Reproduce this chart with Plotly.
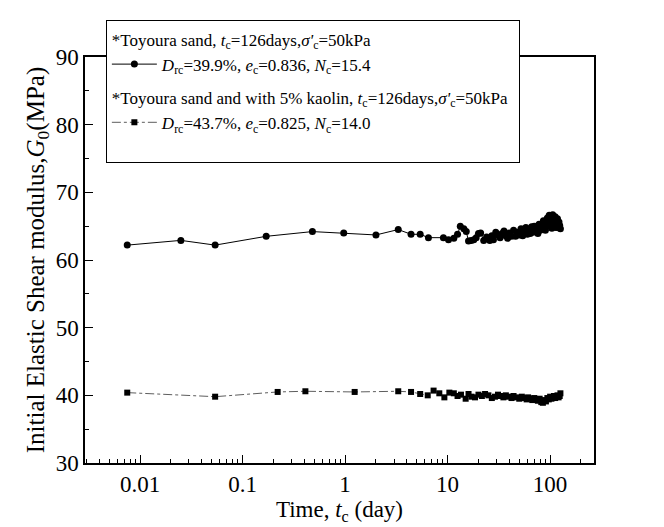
import plotly.graph_objects as go

# ---- data ----
t_sand = [0.0075, 0.025, 0.054, 0.17, 0.48, 0.97, 2.0, 3.3, 4.4, 5.4, 6.5, 9.1,
          10.2, 11.5, 12.5, 13.3, 14.4, 15.2, 16.0, 17.0, 18.0, 19.0, 20.0, 21.0,
          22.5, 24.0, 25.8, 27.0, 28.0, 29.5, 31.0, 32.5, 34.0, 35.5, 37.0, 38.5,
          40.0, 42.0, 44.0, 46.0, 48.0, 50.0, 52.0, 54.0, 56.0, 58.0, 60.0, 62.0,
          64.0, 66.0, 68.0, 70.0, 72.0, 74.0, 76.0, 78.0, 80.0, 82.0, 84.0, 86.0,
          88.0, 90.0, 92.0, 94.0, 96.0, 98.0, 100.0, 102.0, 104.0, 106.0, 108.0, 110.0,
          112.0, 114.0, 116.0, 118.0, 120.0, 122.0, 124.0, 126.0]
g_sand = [62.2, 62.9, 62.2, 63.5, 64.2, 64.0, 63.7, 64.5, 63.8, 63.8, 63.3, 63.3,
          63.0, 63.2, 63.8, 65.0, 64.6, 64.2, 62.8, 62.9, 63.0, 63.3, 63.9, 64.0,
          62.9, 63.4, 62.9, 63.6, 63.0, 64.1, 63.7, 63.3, 63.9, 64.3, 63.6, 63.2,
          64.0, 63.5, 64.4, 63.5, 64.1, 63.7, 64.6, 63.6, 64.2, 64.8, 63.8, 64.5,
          63.9, 64.9, 64.1, 65.0, 64.2, 64.9, 63.9, 65.3, 64.4, 65.1, 64.6, 65.8,
          64.9, 64.4, 65.6, 66.2, 65.0, 66.6, 65.3, 66.2, 64.7, 66.7, 65.6, 65.1,
          66.4, 64.8, 65.9, 66.1, 64.8, 65.6, 65.1, 64.6]

t_kaolin = [0.0075, 0.054, 0.22, 0.41, 1.24, 3.3, 4.4, 5.4, 6.4, 7.3, 8.3, 9.3,
            10.4, 11.5, 12.5, 13.5, 15.0, 16.0, 17.1, 18.5, 20.0, 21.6, 23.2, 25.0,
            27.0, 29.0, 31.0, 33.0, 35.0, 37.0, 39.6, 42.0, 44.0, 47.0, 50.0, 53.0,
            56.0, 59.0, 61.0, 64.0, 67.0, 70.0, 73.0, 76.0, 79.0, 82.0, 85.0, 88.0,
            91.0, 94.0, 97.0, 100.0, 103.0, 106.0, 109.0, 112.0, 115.0, 118.0, 121.0, 124.0,
            126.0]
g_kaolin = [40.4, 39.8, 40.5, 40.6, 40.5, 40.6, 40.5, 40.2, 40.0, 40.7, 40.3, 39.7,
            40.4, 40.3, 39.9, 40.1, 39.5, 40.2, 39.8, 39.7, 40.1, 39.9, 40.2, 40.0,
            39.6, 39.8, 40.1, 39.9, 39.7, 40.0, 39.8, 39.6, 39.9, 39.7, 39.5, 39.8,
            39.6, 39.4, 39.7, 39.5, 39.3, 39.6, 39.4, 39.2, 39.5, 39.0, 38.9, 39.3,
            39.1, 39.6, 39.4, 39.8, 39.5, 39.7, 39.9, 39.6, 39.8, 40.0, 39.7, 39.9,
            40.3]

x_tickvals = [0.01, 0.1, 1, 10, 100]
x_ticktext = ["0.01", "0.1", "1", "10", "100"]

FONT = "Liberation Serif"
LEG = 17

fig = go.Figure()
fig.add_trace(go.Scatter(
    x=t_sand, y=g_sand, mode="lines+markers",
    line=dict(color="black", width=1),
    marker=dict(symbol="circle", size=7, color="black"),
    name="<i>D</i><sub>rc</sub>=39.9%, <i>e</i><sub>c</sub>=0.836, <i>N</i><sub>c</sub>=15.4",
    legendgroup="sand",
    legendgrouptitle=dict(text="*Toyoura sand, <i>t</i><sub>c</sub>=126days,<i>σ'</i><sub>c</sub>=50kPa",
                          font=dict(family=FONT, size=LEG, color="black")),
))
fig.add_trace(go.Scatter(
    x=t_kaolin, y=g_kaolin, mode="lines+markers",
    line=dict(color="#333333", width=0.8, dash="dashdot"),
    marker=dict(symbol="square", size=6, color="black"),
    name="<i>D</i><sub>rc</sub>=43.7%, <i>e</i><sub>c</sub>=0.825, <i>N</i><sub>c</sub>=14.0<br> ",
    legendgroup="kaolin",
    legendgrouptitle=dict(text="*Toyoura sand and with 5% kaolin, <i>t</i><sub>c</sub>=126days,<i>σ'</i><sub>c</sub>=50kPa",
                          font=dict(family=FONT, size=LEG, color="black")),
))

fig.update_layout(
    width=664, height=527,
    margin=dict(l=77, r=78, t=38, b=72),
    paper_bgcolor="white", plot_bgcolor="white",
    font=dict(family=FONT, size=22, color="black"),
    showlegend=True,
    legend=dict(
        x=0.041, y=1.09, xanchor="left", yanchor="top",
        bgcolor="white", bordercolor="black", borderwidth=1,
        font=dict(family=FONT, size=LEG, color="black"),
        tracegroupgap=8, itemwidth=45, valign="top",
    ),
)

fig.update_xaxes(
    type="log", range=[-2.537, 2.428],
    tickmode="array", tickvals=x_tickvals, ticktext=x_ticktext,
    ticks="inside", ticklen=8, tickwidth=1, tickcolor="black",
    minor=dict(ticks="inside", ticklen=4, tickwidth=1, tickcolor="black", dtick="D1", showgrid=False),
    showline=True, linecolor="black", linewidth=1.5, mirror=True,
    showgrid=False, zeroline=False,
    tickfont=dict(family=FONT, size=23),
    title=dict(text="Time, <i>t</i><sub>c</sub> (day)", font=dict(family=FONT, size=23), standoff=0),
)
fig.update_yaxes(
    range=[30, 90], tickmode="array", tickvals=[30, 40, 50, 60, 70, 80, 90],
    ticks="inside", ticklen=8, tickwidth=1, tickcolor="black",
    minor=dict(ticks="inside", ticklen=4, tickwidth=1, tickcolor="black", dtick=5, showgrid=False),
    showline=True, linecolor="black", linewidth=1.5, mirror=True,
    showgrid=False, zeroline=False,
    tickfont=dict(family=FONT, size=23),
    title=dict(text="Initial Elastic Shear modulus,<i>G</i><sub>0</sub>(MPa)", font=dict(family=FONT, size=25), standoff=4),
)

fig.write_html("out.html")
